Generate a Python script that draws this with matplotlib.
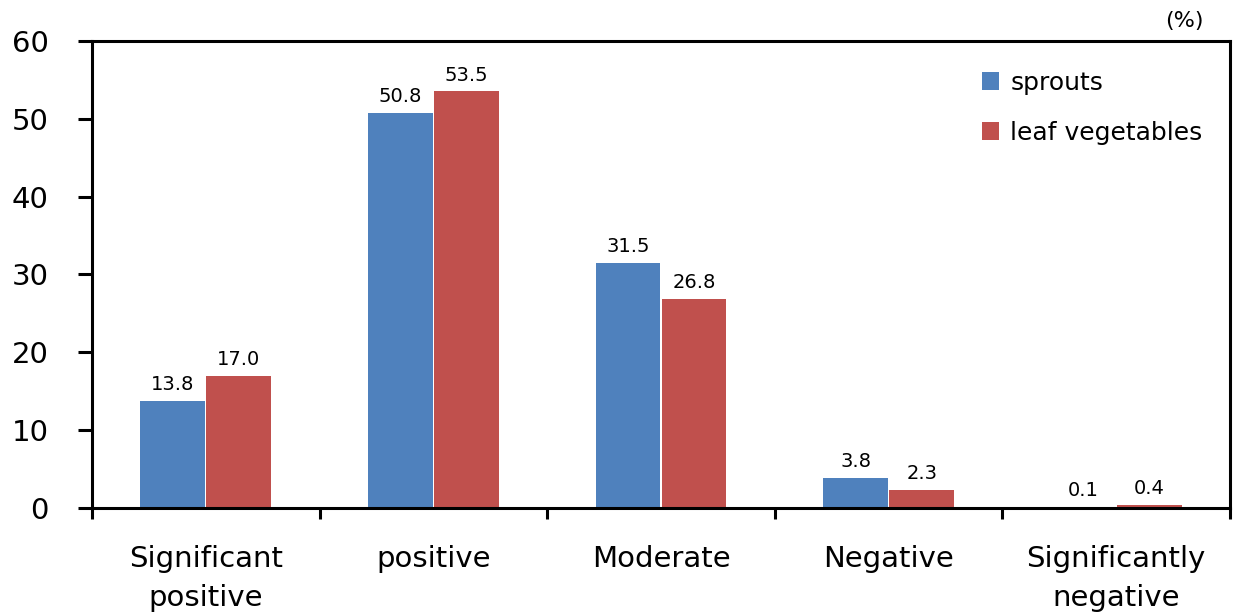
import matplotlib
matplotlib.use("Agg")
import matplotlib.pyplot as plt
import numpy as np

plt.rcParams['font.family'] = ['DejaVu Sans']

categories = ["Significant\npositive", "positive", "Moderate", "Negative", "Significantly\nnegative"]
sprouts = [13.8, 50.8, 31.5, 3.8, 0.1]
leaf_vegetables = [17.0, 53.5, 26.8, 2.3, 0.4]
series_names = ["sprouts", "leaf vegetables"]
y_ticks = [0, 10, 20, 30, 40, 50, 60]

blue = "#4F81BD"
red = "#C0504D"

fig = plt.figure(figsize=(12.33, 6.13), dpi=100)
ax = fig.add_axes([0.0746, 0.1713, 0.9230, 0.7620])

x = np.arange(len(categories))
w = 0.285
off = 0.145
b1 = ax.bar(x - off, sprouts, w, color=blue, label=series_names[0], zorder=2)
b2 = ax.bar(x + off, leaf_vegetables, w, color=red, label=series_names[1], zorder=2)

for bars, vals in ((b1, sprouts), (b2, leaf_vegetables)):
    for rect, v in zip(bars, vals):
        ax.annotate(f"{v:.1f}", (rect.get_x() + rect.get_width() / 2, v),
                    xytext=(0, 5), textcoords="offset points",
                    ha="center", va="bottom", fontsize=14, color="black")

ax.set_xlim(-0.5, len(categories) - 0.5)
ax.set_ylim(0, 60)
ax.set_yticks(y_ticks)
ax.set_yticklabels([str(t) for t in y_ticks], fontsize=21)

# category ticks sit on the boundaries between groups
ax.set_xticks(np.arange(len(categories) + 1) - 0.5)
ax.set_xticklabels([])
ax.set_xticks(x, minor=True)
ax.set_xticklabels(categories, minor=True, fontsize=21, linespacing=1.5)
ax.tick_params(axis="x", which="minor", length=0, pad=27)
ax.tick_params(axis="x", which="major", direction="out", length=8, width=2.2)
ax.tick_params(axis="y", direction="out", length=10, width=2.2, pad=21)

for s in ax.spines.values():
    s.set_linewidth(2.2)
    s.set_color("black")

ax.legend(loc="upper left", bbox_to_anchor=(0.773, 0.958), frameon=False,
          fontsize=18, handlelength=0.7, handleheight=0.7, handletextpad=0.45,
          labelspacing=1.05, borderaxespad=0)

fig.text(0.976, 0.965, "(%)", ha="right", va="center", fontsize=16)

fig.savefig("out.png", dpi=100)
